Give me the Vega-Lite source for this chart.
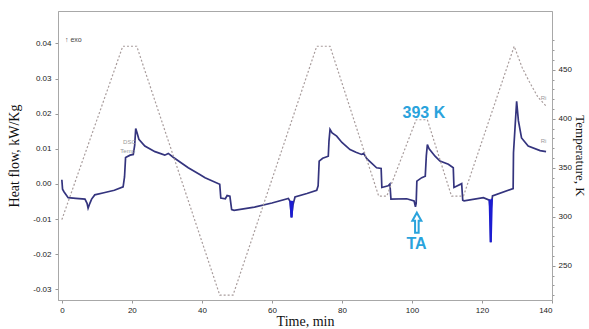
{
  "$schema": "https://vega.github.io/schema/vega-lite/v6.json",
  "width": 494,
  "height": 289,
  "autosize": "none",
  "padding": {"left": 58, "top": 11, "right": 37, "bottom": 29},
  "background": "white",
  "config": {"view": {"stroke": "#a8a8a8", "strokeWidth": 1}},
  "datasets": {
    "hf": [
      {"t": 0, "hf": 0.0012}, {"t": 0.2, "hf": -0.0015}, {"t": 0.6, "hf": -0.0022}, {"t": 1.8, "hf": -0.0039},
      {"t": 4, "hf": -0.0041}, {"t": 6.6, "hf": -0.0043}, {"t": 7.2, "hf": -0.0055}, {"t": 7.5, "hf": -0.0069},
      {"t": 8.0, "hf": -0.0055}, {"t": 8.5, "hf": -0.0043}, {"t": 9.4, "hf": -0.0031}, {"t": 12, "hf": -0.0025},
      {"t": 15, "hf": -0.0018}, {"t": 17.5, "hf": -0.0008}, {"t": 17.9, "hf": 0.002}, {"t": 18.2, "hf": 0.0075},
      {"t": 19.5, "hf": 0.0082}, {"t": 20.4, "hf": 0.0084}, {"t": 20.8, "hf": 0.011}, {"t": 21.1, "hf": 0.0158},
      {"t": 21.5, "hf": 0.0145}, {"t": 22, "hf": 0.0127}, {"t": 23.7, "hf": 0.0108}, {"t": 26.6, "hf": 0.0092},
      {"t": 29.4, "hf": 0.0082}, {"t": 30.4, "hf": 0.0087}, {"t": 31.8, "hf": 0.0076}, {"t": 36.1, "hf": 0.0046},
      {"t": 39.4, "hf": 0.0027}, {"t": 40.9, "hf": 0.0018}, {"t": 45.1, "hf": -0.0001}, {"t": 45.4, "hf": -0.004},
      {"t": 46.7, "hf": -0.0042}, {"t": 47.2, "hf": -0.0033}, {"t": 48.0, "hf": -0.0035}, {"t": 48.5, "hf": -0.0073},
      {"t": 49.2, "hf": -0.0075}, {"t": 55, "hf": -0.0066}, {"t": 60, "hf": -0.0054}, {"t": 64.7, "hf": -0.0041},
      {"t": 65.2, "hf": -0.005}, {"t": 65.6, "hf": -0.0095}, {"t": 66.0, "hf": -0.006}, {"t": 66.6, "hf": -0.0037},
      {"t": 70, "hf": -0.0027}, {"t": 72.8, "hf": -0.0018}, {"t": 73.2, "hf": -0.0005}, {"t": 73.5, "hf": 0.0065},
      {"t": 74.5, "hf": 0.0073}, {"t": 76.1, "hf": 0.0079}, {"t": 76.3, "hf": 0.0122}, {"t": 76.6, "hf": 0.0155},
      {"t": 77.2, "hf": 0.0145}, {"t": 78.5, "hf": 0.0136}, {"t": 80, "hf": 0.0118}, {"t": 82.3, "hf": 0.0098},
      {"t": 84, "hf": 0.009}, {"t": 85.6, "hf": 0.0084}, {"t": 86.2, "hf": 0.0087}, {"t": 87.1, "hf": 0.0072},
      {"t": 89.9, "hf": 0.0046}, {"t": 91.2, "hf": 0.0044}, {"t": 91.4, "hf": -0.001}, {"t": 93.2, "hf": -0.0005},
      {"t": 93.7, "hf": 0.0}, {"t": 94.0, "hf": -0.0043}, {"t": 98.5, "hf": -0.0042}, {"t": 100.6, "hf": -0.0048},
      {"t": 101.0, "hf": -0.0065}, {"t": 101.2, "hf": -0.0055}, {"t": 101.4, "hf": 0.0008}, {"t": 102.8, "hf": 0.0018},
      {"t": 103.8, "hf": 0.0022}, {"t": 104.1, "hf": 0.008}, {"t": 104.4, "hf": 0.0112}, {"t": 104.9, "hf": 0.01},
      {"t": 106.6, "hf": 0.0079}, {"t": 108, "hf": 0.0065}, {"t": 110.4, "hf": 0.0056}, {"t": 111.8, "hf": 0.0046},
      {"t": 112.0, "hf": -0.001}, {"t": 114.2, "hf": 0.0001}, {"t": 114.5, "hf": -0.0046}, {"t": 114.9, "hf": -0.0048},
      {"t": 120.4, "hf": -0.0039}, {"t": 122.1, "hf": -0.0046}, {"t": 122.4, "hf": -0.008}, {"t": 122.5, "hf": -0.0166},
      {"t": 122.6, "hf": -0.007}, {"t": 123.0, "hf": -0.0034}, {"t": 128.9, "hf": -0.0013}, {"t": 129.0, "hf": 0.0089},
      {"t": 129.9, "hf": 0.0235}, {"t": 130.4, "hf": 0.018}, {"t": 131.3, "hf": 0.0131}, {"t": 133.2, "hf": 0.0108},
      {"t": 136.6, "hf": 0.0095}, {"t": 138.3, "hf": 0.0092}
    ],
    "spikes": [
      {"s": 1, "t": 65.3, "hf": -0.0048}, {"s": 1, "t": 65.6, "hf": -0.0095}, {"s": 1, "t": 65.9, "hf": -0.0048},
      {"s": 2, "t": 122.2, "hf": -0.0044}, {"s": 2, "t": 122.5, "hf": -0.0166}, {"s": 2, "t": 122.8, "hf": -0.0042}
    ],
    "temp": [
      {"t": 0, "T": 297}, {"t": 17.4, "T": 474}, {"t": 21.4, "T": 474}, {"t": 45.1, "T": 220}, {"t": 48.9, "T": 220},
      {"t": 72.8, "T": 474}, {"t": 76.6, "T": 474}, {"t": 90.5, "T": 321}, {"t": 92.8, "T": 321}, {"t": 101.2, "T": 399},
      {"t": 104.4, "T": 399}, {"t": 111.3, "T": 321}, {"t": 114.7, "T": 321}, {"t": 129.2, "T": 474},
      {"t": 131.5, "T": 452}, {"t": 133.5, "T": 438}, {"t": 136, "T": 422}, {"t": 138.3, "T": 413}
    ]
  },
  "layer": [
    {
      "encoding": {
        "x": {
          "field": "t", "type": "quantitative",
          "scale": {"domain": [-1.1, 140], "nice": false, "zero": false},
          "axis": {
            "title": "Time, min", "values": [0, 10, 20, 30, 40, 50, 60, 70, 80, 90, 100, 110, 120, 130, 140],
            "labelExpr": "datum.value % 20 == 0 ? datum.value : ''",
            "grid": false, "domainColor": "#a8a8a8", "tickColor": "#999", "tickSize": 3,
            "labelFont": "Liberation Sans", "labelFontSize": 8, "labelColor": "#222", "labelPadding": 3,
            "titleFont": "Liberation Serif", "titleFontSize": 14, "titleFontWeight": "normal", "titleColor": "#111", "titlePadding": 0
          }
        },
        "y": {
          "field": "hf", "type": "quantitative",
          "scale": {"domain": [-0.033, 0.0492], "nice": false, "zero": false},
          "axis": {
            "title": "Heat flow, kW/Kg", "values": [-0.03, -0.02, -0.01, 0, 0.01, 0.02, 0.03, 0.04],
            "labelExpr": "datum.value < 0 ? '-' + format(-datum.value, '.2f') : format(datum.value, '.2f')",
            "grid": false, "domainColor": "#a8a8a8", "tickColor": "#999", "tickSize": 3,
            "labelFont": "Liberation Sans", "labelFontSize": 8, "labelColor": "#222", "labelPadding": 4,
            "titleFont": "Liberation Serif", "titleFontSize": 14, "titleFontWeight": "normal", "titleColor": "#111", "titlePadding": 11
          }
        }
      },
      "layer": [
        {"data": {"name": "hf"}, "mark": {"type": "line", "color": "#34347e", "strokeWidth": 1.7}},
        {"data": {"name": "spikes"}, "mark": {"type": "line", "color": "#1c1cd2", "strokeWidth": 2.2}, "encoding": {"detail": {"field": "s"}}},
        {"data": {"values": [{"t": 103.4, "hf": 0.0201, "label": "393 K"}, {"t": 101.3, "hf": -0.0171, "label": "TA"}]},
         "mark": {"type": "text", "font": "Liberation Sans", "fontSize": 16, "fontWeight": "bold", "color": "#2aa3dc", "baseline": "middle", "align": "center"},
         "encoding": {"text": {"field": "label"}}},
        {"data": {"values": [{"t": 101.4, "hf": -0.011}]},
         "mark": {"type": "point", "shape": "M0,-1L0.45,-0.2L0.18,-0.2L0.18,1L-0.18,1L-0.18,-0.2L-0.45,-0.2Z", "size": 400, "filled": false, "stroke": "#2aa3dc", "strokeWidth": 2, "opacity": 1}},
        {"data": {"values": [{"t": 0.9, "hf": 0.0410, "label": "↑ exo"}]},
         "mark": {"type": "text", "font": "Liberation Sans", "fontSize": 7, "color": "#444", "align": "left", "baseline": "middle"},
         "encoding": {"text": {"field": "label"}}},
        {"data": {"values": [{"t": 19.3, "hf": 0.0118, "label": "DSC"}, {"t": 18.8, "hf": 0.0094, "label": "Temp"}, {"t": 137.6, "hf": 0.0245, "label": "Ri"}, {"t": 137.6, "hf": 0.0122, "label": "Ri"}]},
         "mark": {"type": "text", "font": "Liberation Sans", "fontSize": 6, "color": "#999", "align": "center", "baseline": "middle"},
         "encoding": {"text": {"field": "label"}}}
      ]
    },
    {
      "data": {"name": "temp"},
      "mark": {"type": "line", "color": "#a89c9c", "strokeWidth": 1.2, "strokeDash": [2, 2]},
      "encoding": {
        "x": {"field": "t", "type": "quantitative"},
        "y": {
          "field": "T", "type": "quantitative",
          "scale": {"domain": [215, 510], "nice": false, "zero": false},
          "axis": {
            "orient": "right", "title": "Temperature, K", "titleAngle": 90,
            "values": [220, 230, 240, 250, 260, 270, 280, 290, 300, 310, 320, 330, 340, 350, 360, 370, 380, 390, 400, 410, 420, 430, 440, 450, 460, 470, 480],
            "labelExpr": "datum.value % 50 == 0 ? datum.value : ''",
            "grid": false, "domainColor": "#a8a8a8", "tickColor": "#999",
            "tickSize": {"condition": {"test": "datum.value % 50 == 0", "value": 3}, "value": 2},
            "labelFont": "Liberation Sans", "labelFontSize": 8, "labelColor": "#222", "labelPadding": 3,
            "titleFont": "Liberation Serif", "titleFontSize": 13, "titleFontWeight": "normal", "titleColor": "#111", "titlePadding": 1
          }
        }
      }
    }
  ],
  "resolve": {"scale": {"y": "independent"}}
}
